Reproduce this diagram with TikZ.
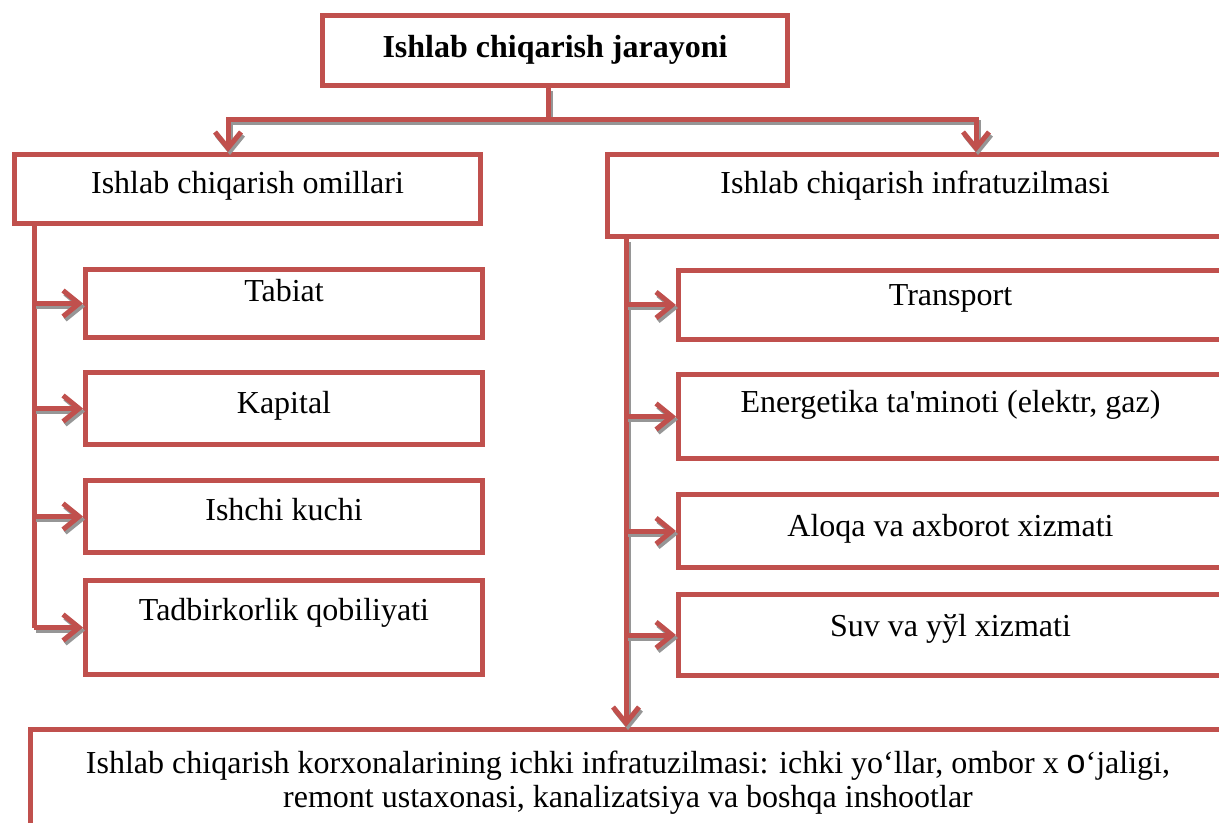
\documentclass[tikz,border=0pt]{standalone}
\usepackage{fontspec}
\setmainfont{Liberation Serif}
\newfontfamily\oddfont{Liberation Sans}
\newfontfamily\plainfont{Liberation Serif}
\usetikzlibrary{arrows.meta}
\definecolor{boxred}{RGB}{192,80,77}
\definecolor{shadegray}{RGB}{150,150,150}
\tikzset{
  box/.style={draw=boxred, line width=2.5pt, inner sep=0pt, text height=11pt,
    font=\fontsize{16}{18.5}\selectfont},
  line/.style={draw=boxred, line width=2.5pt},
  shaded/.style={line, preaction={draw=shadegray, line width=2.5pt,
    transform canvas={xshift=1pt, yshift=-1.5pt}}},
  conn/.style={shaded, -{Straight Barb[length=8pt, width=13pt]}},
}
\begin{document}
\begin{tikzpicture}[x=0.5pt, y=-0.5pt]
            \useasboundingbox (0,0) rectangle (1219,823);

            \node[box, minimum width=232.5pt, minimum height=35pt, text depth=3.9pt,
                  font=\fontsize{16}{18.5}\selectfont\bfseries] (jarayon) at (555,50.5) {Ishlab chiqarish jarayoni};
            \node[box, minimum width=233pt, minimum height=34.5pt, text depth=6.9pt] (omillar) at (247.5,189) {Ishlab chiqarish omillari};
            \node[box, minimum width=307.5pt, minimum height=41pt, text depth=13.4pt] (infra) at (915,195.5) {Ishlab chiqarish infratuzilmasi};

            \node[box, minimum width=198.5pt, minimum height=34pt, text depth=13.4pt] (tabiat) at (284,303.5) {Tabiat};
            \node[box, minimum width=198.5pt, minimum height=36pt, text depth=6.4pt] (kapital) at (284,408.5) {Kapital};
            \node[box, minimum width=198.5pt, minimum height=36pt, text depth=6.9pt] (ishchi) at (284,516.5) {Ishchi kuchi};
            \node[box, minimum width=198.5pt, minimum height=47pt, text depth=17.9pt] (tadbir) at (284,627.5) {Tadbirkorlik qobiliyati};

            \node[box, minimum width=272pt, minimum height=34.5pt, text depth=10.9pt] (transport) at (950.5,305) {Transport};
            \node[box, minimum width=272pt, minimum height=42pt, text depth=14.9pt] (energiya) at (950.5,416.5) {Energetika ta{\plainfont '}minoti (elektr, gaz)};
            \node[box, minimum width=272pt, minimum height=36.5pt, text depth=5.9pt] (aloqa) at (950.5,531) {Aloqa va axborot xizmati};
            \node[box, minimum width=272pt, minimum height=40.5pt, text depth=9.9pt] (suv) at (950.5,635) {Suv va yўl xizmati};

            \node[box, minimum width=597.5pt, minimum height=53pt, text height=, text depth=, align=center,
                  font=\fontsize{16}{17}\selectfont] (ichki) at (628,782.5)
                  {Ishlab chiqarish korxonalarining ichki infratuzilmasi: ichki yo‘llar, ombor x {\oddfont\fontsize{17}{17}\selectfont o}‘jaligi,\\
                   remont ustaxonasi, kanalizatsiya va boshqa inshootlar};

            % top bus
            \coordinate (hub) at (548,120);
            \draw[shaded] (hub |- jarayon.south) -- (hub);
            \draw[conn] (hub) -| ([xshift=-9.75pt]omillar.north);
            \draw[conn] (hub) -| ([xshift=30.5pt]infra.north);

            % left branch
            \coordinate (lspine) at (34,226);
            \draw[line] (lspine) -- (lspine |- tadbir.west);
            \draw[conn] (lspine |- tabiat.west) -- (tabiat.west);
            \draw[conn] (lspine |- kapital.west) -- (kapital.west);
            \draw[conn] (lspine |- ishchi.west) -- (ishchi.west);
            \draw[conn] (lspine |- tadbir.west) -- (tadbir.west);

            % right branch
            \coordinate (rspine) at (626,239);
            \draw[conn] (rspine) -- (rspine |- ichki.north);
            \draw[conn] (rspine |- transport.west) -- (transport.west);
            \draw[conn] (rspine |- energiya.west) -- (energiya.west);
            \draw[conn] (rspine |- aloqa.west) -- (aloqa.west);
            \draw[conn] (rspine |- suv.west) -- (suv.west);
        \end{tikzpicture}
\end{document}
